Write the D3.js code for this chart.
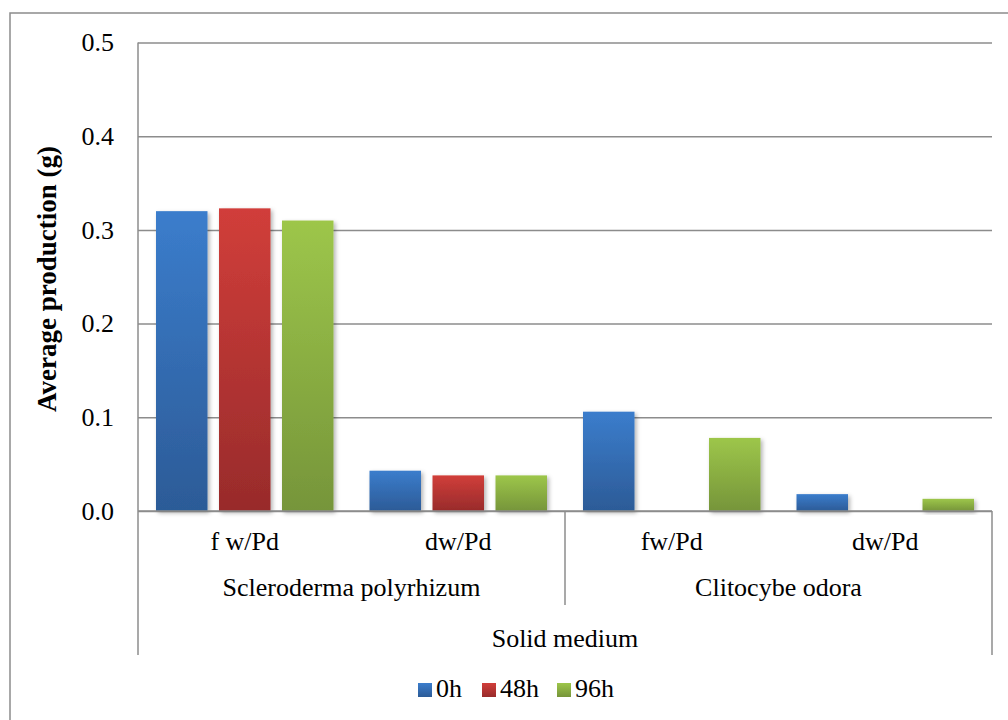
<!DOCTYPE html>
<html>
<head>
<meta charset="utf-8">
<script src="https://cdn.jsdelivr.net/npm/d3@7/dist/d3.min.js"></script>
<style>
  html, body { margin: 0; padding: 0; background: #ffffff; }
  svg { display: block; }
  text { font-family: "Liberation Serif", "Times New Roman", serif; fill: #000; }
</style>
</head>
<body>
<svg id="chart" width="1008" height="720"></svg>
<script>
// Sub-categories (measurement), species groups and medium
const categories = ["f w/Pd", "dw/Pd", "fw/Pd", "dw/Pd"];
const speciesGroups = ["Scleroderma polyrhizum", "Clitocybe odora"];
const mediumLabel = "Solid medium";

// Series
const seriesNames = ["0h", "48h", "96h"];
const values0h  = [0.320, 0.043, 0.106, 0.018];
const values48h = [0.323, 0.038, 0.000, 0.000];
const values96h = [0.310, 0.038, 0.078, 0.013];
const seriesValues = [values0h, values48h, values96h];

// Value axis ticks
const yTicks = [0, 0.1, 0.2, 0.3, 0.4, 0.5];
const yTitle = "Average production (g)";

const svg = d3.select("#chart");
const margin = { left: 138, right: 16, top: 42.5, bottom: 209 };
const W = 1008, H = 720;
const x0 = margin.left, x1 = W - margin.right;
const yTop = margin.top, yBottom = H - margin.bottom;

// Outer frame
svg.append("rect")
  .attr("x", 10).attr("y", 13)
  .attr("width", 1010).attr("height", 720)
  .attr("fill", "none").attr("stroke", "#8c8c8c").attr("stroke-width", 1.5);

// Gradients and shadow
const defs = svg.append("defs");
const seriesColors = [
  { top: "#3b7dcc", bottom: "#2c5b97" },
  { top: "#d13e3a", bottom: "#982b2b" },
  { top: "#9dc64a", bottom: "#76953a" }
];
seriesColors.forEach((c, i) => {
  const g = defs.append("linearGradient")
    .attr("id", "grad" + i).attr("x1", 0).attr("y1", 0).attr("x2", 0).attr("y2", 1);
  g.append("stop").attr("offset", "0%").attr("stop-color", c.top);
  g.append("stop").attr("offset", "100%").attr("stop-color", c.bottom);
});
const shadow = defs.append("filter").attr("id", "shadow")
  .attr("x", "-20%").attr("y", "-20%").attr("width", "150%").attr("height", "150%");
shadow.append("feDropShadow")
  .attr("dx", 2).attr("dy", 2).attr("stdDeviation", 2)
  .attr("flood-color", "#000").attr("flood-opacity", 0.3);

// Scales
const y = d3.scaleLinear().domain([0, 0.5]).range([yBottom, yTop]);
const xCat = d3.scaleBand().domain(d3.range(categories.length)).range([x0, x1]).padding(0);
const innerSpan = 177.5;
const xSeries = d3.scaleBand().domain(d3.range(seriesNames.length))
  .range([-innerSpan / 2, innerSpan / 2]).paddingInner(0.1825).paddingOuter(0);

// Gridlines and value axis labels
const yAxis = d3.axisLeft(y)
  .tickValues(yTicks)
  .tickFormat(d3.format(".1f"))
  .tickSize(-(x1 - x0))
  .tickSizeOuter(0)
  .tickPadding(24);
const gy = svg.append("g").attr("transform", `translate(${x0},0)`).call(yAxis);
gy.select(".domain").remove();
gy.selectAll(".tick line").attr("stroke", "#8c8c8c").attr("stroke-width", 1.5);
gy.selectAll(".tick text")
  .attr("font-size", 26).attr("fill", "#000");

// Vertical value axis line
svg.append("line")
  .attr("x1", x0).attr("x2", x0).attr("y1", yTop).attr("y2", yBottom)
  .attr("stroke", "#8c8c8c").attr("stroke-width", 1.5);

// Bars
const barData = [];
categories.forEach((c, ci) => {
  seriesValues.forEach((vals, si) => {
    barData.push({ ci, si, v: vals[ci] });
  });
});
svg.append("g").selectAll("rect")
  .data(barData.filter(d => d.v > 0))
  .join("rect")
  .attr("x", d => xCat(d.ci) + xCat.bandwidth() / 2 + xSeries(d.si))
  .attr("width", xSeries.bandwidth())
  .attr("y", d => y(d.v))
  .attr("height", d => y(0) - y(d.v))
  .attr("fill", d => `url(#grad${d.si})`)
  .attr("filter", "url(#shadow)");

// Zero line over the bar bases
svg.append("line")
  .attr("x1", x0).attr("x2", x1).attr("y1", y(0)).attr("y2", y(0))
  .attr("stroke", "#8c8c8c").attr("stroke-width", 1.5);

// Multi-level category axis lines
const catAxis = svg.append("g").attr("stroke", "#8c8c8c").attr("stroke-width", 1.5);
catAxis.append("line").attr("x1", x0).attr("x2", x0).attr("y1", y(0)).attr("y2", 655);
catAxis.append("line").attr("x1", x1).attr("x2", x1).attr("y1", y(0)).attr("y2", 655);
catAxis.append("line")
  .attr("x1", xCat(2)).attr("x2", xCat(2)).attr("y1", y(0)).attr("y2", 605);

// Category labels
svg.append("g").selectAll("text")
  .data(categories)
  .join("text")
  .attr("x", (d, i) => xCat(i) + xCat.bandwidth() / 2)
  .attr("y", 550)
  .attr("text-anchor", "middle")
  .attr("font-size", 26)
  .text(d => d);

svg.append("g").selectAll("text")
  .data(speciesGroups)
  .join("text")
  .attr("x", (d, i) => xCat(i * 2) + xCat.bandwidth())
  .attr("y", 596)
  .attr("text-anchor", "middle")
  .attr("font-size", 26)
  .text(d => d);

svg.append("text")
  .attr("x", (x0 + x1) / 2)
  .attr("y", 647)
  .attr("text-anchor", "middle")
  .attr("font-size", 26)
  .text(mediumLabel);

// Value axis title
svg.append("text")
  .attr("transform", `translate(56,279) rotate(-90)`)
  .attr("text-anchor", "middle")
  .attr("font-size", 27)
  .attr("font-weight", "bold")
  .text(yTitle);

// Legend
const legendX = [418, 482, 557];
const legend = svg.append("g").selectAll("g")
  .data(seriesNames)
  .join("g")
  .attr("transform", (d, i) => `translate(${legendX[i]},683)`);
legend.append("rect")
  .attr("width", 14).attr("height", 14)
  .attr("fill", (d, i) => `url(#grad${i})`);
legend.append("text")
  .attr("x", 18).attr("y", 14)
  .attr("font-size", 26)
  .text(d => d);
</script>
</body>
</html>
